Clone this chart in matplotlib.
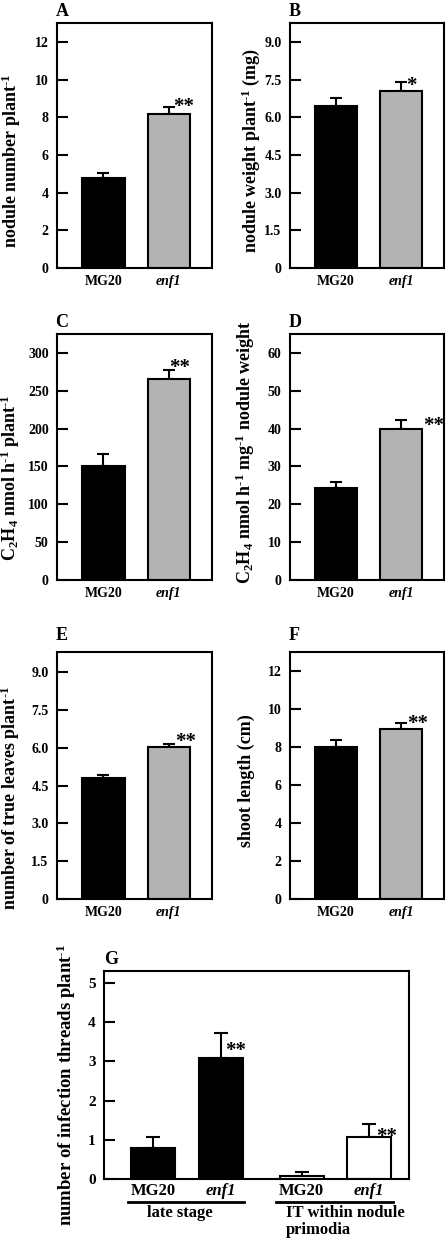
import numpy as np
import matplotlib
matplotlib.use('Agg')
import matplotlib.pyplot as plt
import matplotlib.transforms as mtransforms

plt.rcParams['font.family'] = ['Liberation Serif', 'DejaVu Serif']
plt.rcParams['font.weight'] = 'bold'
plt.rcParams['axes.labelweight'] = 'bold'
plt.rcParams['mathtext.fontset'] = 'custom'
plt.rcParams['mathtext.rm'] = 'Liberation Serif:bold'
plt.rcParams['mathtext.it'] = 'Liberation Serif:italic:bold'
plt.rcParams['mathtext.bf'] = 'Liberation Serif:bold'

genotypes = ['MG20', 'enf1']

nodule_number = [4.8, 8.15]
nodule_number_err = [0.25, 0.4]
nodule_weight = [6.45, 7.05]
nodule_weight_err = [0.3, 0.35]
ara_plant = [150, 266]
ara_plant_err = [16, 11]
ara_weight = [24.3, 39.8]
ara_weight_err = [1.6, 2.4]
true_leaves = [4.8, 6.02]
true_leaves_err = [0.12, 0.13]
shoot_length = [8.02, 8.95]
shoot_length_err = [0.33, 0.3]

it_labels = ['MG20', 'enf1', 'MG20', 'enf1']
it_groups = ['late stage', 'IT within nodule\nprimodia']
it_counts = [0.78, 3.08, 0.08, 1.08]
it_err = [0.28, 0.65, 0.09, 0.33]
it_stars = ['', '**', '', '**']

W, H = 448, 1243
fig = plt.figure(figsize=(W / 100, H / 100), dpi=100)

INV = r'$^{\text{-}1}$'


def rect(x0, y0, x1, y1):
    return [x0 / W, 1 - y1 / H, (x1 - x0) / W, (y1 - y0) / H]


def style_axes(ax, tick_fs, xlab_fs):
    for s in ax.spines.values():
        s.set_linewidth(1.5)
    ax.tick_params(axis='y', direction='in', length=8, width=1.5,
                   pad=6, labelsize=tick_fs, right=False)
    ax.tick_params(axis='x', length=0, pad=5, labelsize=xlab_fs)
    for lab in ax.get_xticklabels():
        if lab.get_text() == 'enf1':
            lab.set_style('italic')


def pair_panel(box, letter, vals, errs, ymax, ticks, tlabels, ylabel,
               lab_xy, star, star_off, letter_gap):
    ax = fig.add_axes(rect(*box))
    x = np.arange(len(vals))
    ax.errorbar(x, vals, yerr=[np.zeros(len(vals)), errs], fmt='none',
                ecolor='black', elinewidth=1.5, capsize=4, capthick=1.5,
                zorder=1)
    ax.bar(x, vals, width=0.65, color=['black', '#b3b3b3'],
           edgecolor='black', linewidth=1.5, zorder=2)
    ax.set_xlim(-0.71, 1.66)
    ax.set_ylim(0, ymax)
    ax.set_yticks(ticks)
    ax.set_yticklabels(tlabels)
    ax.set_xticks(x)
    ax.set_xticklabels(genotypes)
    style_axes(ax, 10, 10)
    ax.set_ylabel(ylabel, fontsize=13)
    ax.yaxis.set_label_coords(*lab_xy)
    ax.annotate(star, xy=(1, vals[1] + errs[1]), xytext=star_off,
                textcoords='offset points', ha='left', va='baseline',
                fontsize=15)
    ax.annotate(letter, xy=(0, 1), xycoords='axes fraction',
                xytext=(-1, letter_gap), textcoords='offset points',
                ha='left', va='baseline', fontsize=13)
    return ax


pair_panel((57, 23, 212, 268), 'A', nodule_number, nodule_number_err, 13,
           [0, 2, 4, 6, 8, 10, 12], ['0', '2', '4', '6', '8', '10', '12'],
           'nodule number plant' + INV, (-0.22, 0.439), '**', (3.2, -4), 5)
pair_panel((290, 23, 444, 268), 'B', nodule_weight, nodule_weight_err, 9.75,
           [0, 1.5, 3, 4.5, 6, 7.5, 9], ['0', '1.5', '3.0', '4.5', '6.0', '7.5', '9.0'],
           'nodule weight plant' + INV + ' (mg)', (-0.18, 0.48), '*', (3.6, -6.2), 5)
pair_panel((57, 334, 212, 580), 'C', ara_plant, ara_plant_err, 325,
           [0, 50, 100, 150, 200, 250, 300], ['0', '50', '100', '150', '200', '250', '300'],
           'C$_2$H$_4$ nmol h' + INV + ' plant' + INV, (-0.226, 0.415), '**', (0, -1.9), 5)
pair_panel((290, 334, 444, 580), 'D', ara_weight, ara_weight_err, 65,
           [0, 10, 20, 30, 40, 50, 60], ['0', '10', '20', '30', '40', '50', '60'],
           'C$_2$H$_4$ nmol h' + INV + ' mg' + INV + ' nodule weight', (-0.214, 0.518),
           '**', (16, -7.6), 5)
pair_panel((57, 652, 212, 899), 'E', true_leaves, true_leaves_err, 9.8,
           [0, 1.5, 3, 4.5, 6, 7.5, 9], ['0', '1.5', '3.0', '4.5', '6.0', '7.5', '9.0'],
           'number of true leaves plant' + INV, (-0.226, 0.41), '**', (4.7, -1.9), 9)
pair_panel((290, 652, 444, 899), 'F', shoot_length, shoot_length_err, 13,
           [0, 2, 4, 6, 8, 10, 12], ['0', '2', '4', '6', '8', '10', '12'],
           'shoot length (cm)', (-0.227, 0.48), '**', (4.3, -4), 9)

# panel G: infection threads
ax = fig.add_axes(rect(104, 971, 409, 1179))
pos = np.array([0, 1, 2.2, 3.2])
ax.errorbar(pos, it_counts, yerr=[np.zeros(4), it_err], fmt='none',
            ecolor='black', elinewidth=1.5, capsize=5, capthick=1.5, zorder=1)
ax.bar(pos, it_counts, width=0.65, color=['black', 'black', 'white', 'white'],
       edgecolor='black', linewidth=1.5, zorder=2)
ax.set_xlim(-0.73, 3.79)
ax.set_ylim(0, 5.3)
ax.set_yticks([0, 1, 2, 3, 4, 5])
ax.set_xticks(pos)
ax.set_xticklabels(it_labels)
style_axes(ax, 11, 12)
ax.tick_params(axis='x', pad=3)
ax.set_ylabel('number of infection threads plant' + INV, fontsize=13.5)
ax.yaxis.set_label_coords(-0.085, 0.45)
star_offsets = [(0, 0), (2.9, -17), (0, 0), (5, -13.4)]
for p, v, e, s, off in zip(pos, it_counts, it_err, it_stars, star_offsets):
    if s:
        ax.annotate(s, xy=(p, v + e), xytext=off, textcoords='offset points',
                    ha='left', va='baseline', fontsize=15)
ax.annotate('G', xy=(0, 1), xycoords='axes fraction', xytext=(0, 5),
            textcoords='offset points', ha='left', va='baseline', fontsize=13)

trans = mtransforms.blended_transform_factory(ax.transData, ax.transAxes)
for (a, b), name, ha, tx in zip([(pos[0], pos[1]), (pos[2], pos[3])], it_groups,
                                ['center', 'left'], [0.4, 1.96]):
    ax.plot([a - 0.38, b + 0.35], [-0.11, -0.11], color='black', lw=2,
            transform=trans, clip_on=False)
    ax.text(tx, -0.125, name, transform=trans, ha=ha, va='top', fontsize=12,
            linespacing=1.1)

fig.savefig('out.png', dpi=100)
